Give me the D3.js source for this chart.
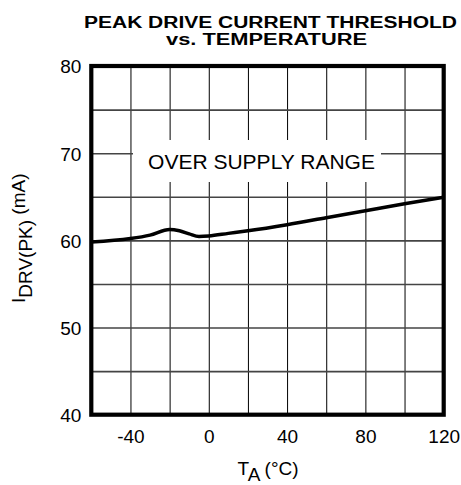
<!DOCTYPE html>
<html lang="en">
<head>
<meta charset="UTF-8">
<title>Peak Drive Current Threshold vs. Temperature</title>
<script src="https://d3js.org/d3.v7.min.js"></script>
<style>
    body { margin: 0; background: #fff; }
    svg { display: block; font-family: "Liberation Sans", Arial, sans-serif; }
</style>
</head>
<body>
<svg id="chart"></svg>
<script>
    // Data
    const temps = [-60, -40, -30, -20, -15, -10, -5, 0, 10, 20, 40, 60, 80, 100, 120];
    const current = [59.8, 60.2, 60.6, 61.25, 61.1, 60.75, 60.45, 60.5, 60.8, 61.1, 61.8, 62.6, 63.4, 64.2, 64.95];
    const xTicks = [-40, 0, 40, 80, 120];
    const yTicks = [40, 50, 60, 70, 80];
    const xGrid = [-40, -20, 0, 20, 40, 60, 80, 100];
    const yGrid = [45, 50, 55, 60, 65, 70, 75];

    const W = 461, H = 485;
    const plotL = 91.3, plotR = 443.7, plotT = 66, plotB = 414.7;

    const svg = d3.select("#chart").attr("width", W).attr("height", H);

    const x = d3.scaleLinear().domain([-60, 120]).range([plotL, plotR]);
    const y = d3.scaleLinear().domain([40, 80]).range([plotB, plotT]);

    // Grid
    svg.append("g")
        .attr("transform", "translate(0," + plotB + ")")
        .call(d3.axisBottom(x).tickValues(xGrid).tickSize(-(plotB - plotT)).tickFormat(""))
        .call(g => g.select(".domain").remove())
        .call(g => g.selectAll("line").attr("stroke", "#000").attr("stroke-width", 1));

    svg.append("g")
        .attr("transform", "translate(" + plotL + ",0)")
        .call(d3.axisLeft(y).tickValues(yGrid).tickSize(-(plotR - plotL)).tickFormat(""))
        .call(g => g.select(".domain").remove())
        .call(g => g.selectAll("line").attr("stroke", "#444").attr("stroke-width", 1.6));

    // Label box covering the grid
    svg.append("rect")
        .attr("x", 133).attr("y", 140)
        .attr("width", 248).attr("height", 42)
        .attr("fill", "#fff");

    svg.append("text")
        .attr("x", 261.5).attr("y", 169)
        .attr("text-anchor", "middle")
        .attr("font-size", 21)
        .text("OVER SUPPLY RANGE");

    // Curve
    const line = d3.line()
        .x((d, i) => x(temps[i]))
        .y(d => y(d))
        .curve(d3.curveMonotoneX);

    svg.append("path")
        .datum(current)
        .attr("d", line)
        .attr("fill", "none")
        .attr("stroke", "#000")
        .attr("stroke-width", 3.5)
        .attr("stroke-linejoin", "round");

    // Frame
    svg.append("rect")
        .attr("x", plotL).attr("y", plotT)
        .attr("width", plotR - plotL).attr("height", plotB - plotT)
        .attr("fill", "none")
        .attr("stroke", "#000")
        .attr("stroke-width", 4.2);

    // Tick labels (plain hyphen for negatives, as in the reference)
    svg.append("g")
        .attr("transform", "translate(0," + plotB + ")")
        .call(d3.axisBottom(x).tickValues(xTicks).tickSize(0).tickPadding(10).tickFormat(d => String(d)))
        .call(g => g.select(".domain").remove())
        .call(g => g.selectAll("text").attr("font-size", 19).attr("font-family", null).attr("fill", "#000").attr("dy", "0.95em"));

    svg.append("g")
        .attr("transform", "translate(" + plotL + ",0)")
        .call(d3.axisLeft(y).tickValues(yTicks).tickSize(0).tickPadding(10).tickFormat(d => String(d)))
        .call(g => g.select(".domain").remove())
        .call(g => g.selectAll("text").attr("font-size", 19).attr("font-family", null).attr("fill", "#000").attr("dy", "0.36em"));

    // Title
    svg.append("text")
        .attr("x", 84).attr("y", 28)
        .attr("font-size", 16).attr("font-weight", "bold")
        .attr("textLength", 373).attr("lengthAdjust", "spacingAndGlyphs")
        .text("PEAK DRIVE CURRENT THRESHOLD");

    svg.append("text")
        .attr("x", 166).attr("y", 45)
        .attr("font-size", 16).attr("font-weight", "bold")
        .attr("textLength", 201).attr("lengthAdjust", "spacingAndGlyphs")
        .text("vs. TEMPERATURE");

    // Axis titles
    const xt = svg.append("text")
        .attr("x", 268).attr("y", 475)
        .attr("text-anchor", "middle")
        .attr("font-size", 19);
    xt.append("tspan").text("T");
    xt.append("tspan").attr("dy", 6).text("A");
    xt.append("tspan").attr("dy", -6).text(" (\u00B0C)");

    const yt = svg.append("text")
        .attr("transform", "translate(25,303) rotate(-90)")
        .attr("font-size", 19);
    yt.append("tspan").text("I");
    yt.append("tspan").attr("dy", 7).text("DRV(PK)");
    yt.append("tspan").attr("dy", -7).text(" (mA)");
</script>
</body>
</html>
